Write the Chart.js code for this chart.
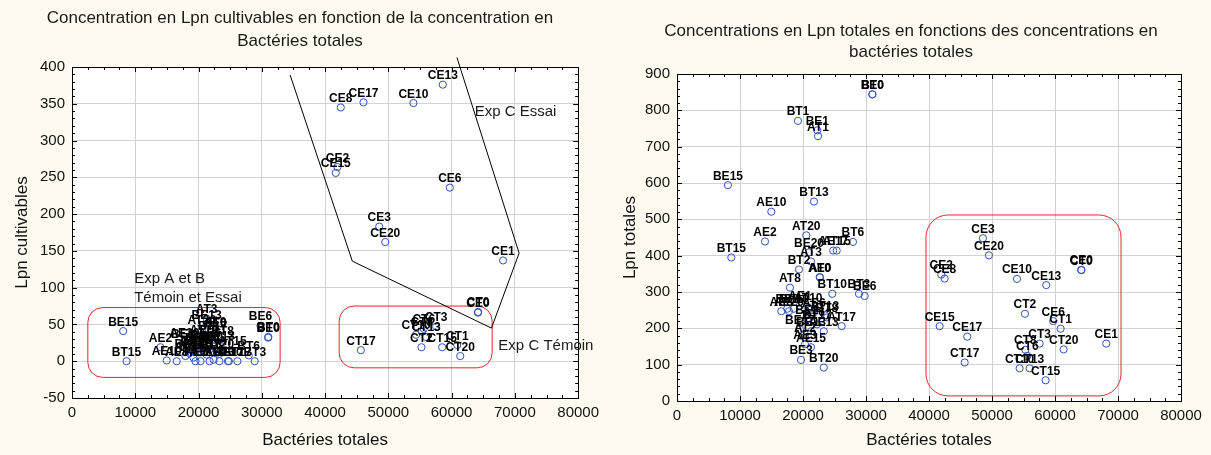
<!DOCTYPE html>
<html><head><meta charset="utf-8">
<script src="https://cdn.jsdelivr.net/npm/chart.js@4.4.1/dist/chart.umd.min.js"></script>
<style>
html,body{margin:0;padding:0;background:#fffaf0;}
#wrap{position:relative;width:1211px;height:455px;overflow:hidden;background:#fffaf0;}
canvas{position:absolute;top:0;}
#c1{left:0;} #c2{left:605px;}
</style></head><body>
<div id="wrap"><canvas id="c1" width="605" height="455"></canvas><canvas id="c2" width="606" height="455"></canvas></div>
<script>
// ---- DATA ----
const sampleNames = [
 "AE0","AE1","AE2","AE3","AE6","AE8","AE10","AE13","AE15","AE17","AE20",
 "AT0","AT1","AT2","AT3","AT6","AT8","AT10","AT13","AT15","AT17","AT20",
 "BE0","BE1","BE2","BE3","BE6","BE8","BE10","BE13","BE15","BE17","BE20",
 "BT0","BT1","BT2","BT3","BT6","BT8","BT10","BT13","BT15","BT17","BT20",
 "CE0","CE1","CE2","CE3","CE6","CE8","CE10","CE13","CE15","CE17","CE20",
 "CT0","CT1","CT2","CT3","CT6","CT8","CT10","CT13","CT15","CT17","CT20"
];
const bacteriesTotales = [
 22650,19520,13970,20310,21740,16550,14970,23300,21270,24800,17770,
 22700,22380,20310,21270,21740,17930,20840,23490,25350,26140,20520,
 31000,22270,20630,19690,29790,17500,18570,21270,8090,19520,20950,
 31030,19200,19360,28880,27930,23800,24650,21740,8620,22220,23300,
 64160,68130,41950,48560,59720,42480,53960,58610,41690,46070,49510,
 64190,60890,55230,57560,55600,55300,54380,55970,58510,45660,61370
];
const lpnCultivables = [
 39,0,19,12,25,0,1,0,9,0,26,
 40,2,0,58,16,7,30,21,14,0,43,
 32,20,22,18,48,24,11,50,41,13,17,
 33,5,14,0,8,28,0,0,0,35,10,
 66,137,264,183,236,345,351,376,256,352,162,
 67,22,19,47,44,40,36,33,19,15,7
];
const lpnTotales = [
 341,263,439,156,244,247,521,192,148,414,247,
 340,729,175,384,219,312,257,236,414,206,456,
 844,745,225,113,289,254,254,192,594,197,409,
 844,771,362,295,438,230,295,549,395,211,92,
 361,158,348,448,220,337,336,319,206,177,401,
 360,199,240,158,124,141,90,90,57,106,142
];
const xTickValues = [0,10000,20000,30000,40000,50000,60000,70000,80000];
const yTicksCultivables = [-50,0,50,100,150,200,250,300,350,400];
const yTicksTotales = [0,100,200,300,400,500,600,700,800,900];

// group outlines (data coordinates)
const essaiOutlineX = [34480,44310,66300,70670,60840];
const essaiOutlineY = [389,136,45,147,413];
const leftBoxes = [{x:[2500,32900], y:[-22,73]}, {x:[42230,66410], y:[-9,75]}];
const rightBoxes = [{x:[39520,70480], y:[14,512]}];
const leftNotes = [
 {text:"Exp A et B", x:9830, y:107},
 {text:"Témoin et Essai", x:9830, y:80},
 {text:"Exp C Essai", x:63650, y:333},
 {text:"Exp C Témoin", x:67390, y:15}
];

// ---- RENDER ----
Chart.defaults.font.family = '"Liberation Sans", Arial, sans-serif';
Chart.defaults.color = '#111';

function roundRect(ctx, x, y, w, h, r){
  ctx.beginPath();
  ctx.moveTo(x+r,y); ctx.lineTo(x+w-r,y); ctx.arcTo(x+w,y,x+w,y+r,r);
  ctx.lineTo(x+w,y+h-r); ctx.arcTo(x+w,y+h,x+w-r,y+h,r);
  ctx.lineTo(x+r,y+h); ctx.arcTo(x,y+h,x,y+h-r,r);
  ctx.lineTo(x,y+r); ctx.arcTo(x,y,x+r,y,r); ctx.closePath();
}

const decoPlugin = {
  id:'deco',
  afterLayout(chart, args, opts){
    if (opts.titleShift){ chart.titleBlock.left += opts.titleShift; chart.titleBlock.right += opts.titleShift; }
  },
  beforeDraw(chart){
    const {ctx, chartArea:a} = chart;
    ctx.save(); ctx.fillStyle='#ffffff'; ctx.fillRect(a.left,a.top,a.right-a.left,a.bottom-a.top); ctx.restore();
  },
  afterDatasetsDraw(chart, args, opts){
    const {ctx, chartArea:a} = chart; const xs = chart.scales.x, ys = chart.scales.y;
    ctx.save();
    // frame
    ctx.strokeStyle='#000'; ctx.lineWidth=1;
    ctx.strokeRect(Math.round(a.left)+0.5, Math.round(a.top)+0.5, Math.round(a.right-a.left), Math.round(a.bottom-a.top));
    // tick marks on all four sides
    ctx.beginPath();
    for (let v = xs.min; v <= xs.max + 1e-6; v += opts.xMinor){
      const px = Math.round(xs.getPixelForValue(v))+0.5;
      const L = (Math.abs(v % opts.xMajor) < 1e-6) ? 5 : 3;
      ctx.moveTo(px, a.bottom); ctx.lineTo(px, a.bottom - L);
      ctx.moveTo(px, a.top); ctx.lineTo(px, a.top + L);
    }
    for (let v = ys.min; v <= ys.max + 1e-6; v += opts.yMinor){
      const py = Math.round(ys.getPixelForValue(v))+0.5;
      const L = (Math.abs((v - ys.min) % opts.yMajor) < 1e-6) ? 5 : 3;
      ctx.moveTo(a.left, py); ctx.lineTo(a.left + L, py);
      ctx.moveTo(a.right, py); ctx.lineTo(a.right - L, py);
    }
    ctx.stroke();
    // group outlines
    (opts.boxes||[]).forEach(b=>{
      const x1 = xs.getPixelForValue(b.x[0]), x2 = xs.getPixelForValue(b.x[1]);
      const y1 = ys.getPixelForValue(b.y[1]), y2 = ys.getPixelForValue(b.y[0]);
      ctx.strokeStyle='#e8262a'; ctx.lineWidth=1;
      roundRect(ctx, x1, y1, x2-x1, y2-y1, opts.boxRadius||15); ctx.stroke();
    });
    if (opts.outline){
      ctx.strokeStyle='#000'; ctx.lineWidth=1; ctx.beginPath();
      opts.outline.x.forEach((vx,i)=>{
        const px = xs.getPixelForValue(vx), py = ys.getPixelForValue(opts.outline.y[i]);
        if (i===0) ctx.moveTo(px,py); else ctx.lineTo(px,py);
      });
      ctx.stroke();
    }
    (opts.notes||[]).forEach(n=>{
      ctx.font='15px "Liberation Sans", Arial, sans-serif'; ctx.fillStyle='#1a1a1a';
      ctx.textAlign='left'; ctx.textBaseline='alphabetic';
      ctx.fillText(n.text, xs.getPixelForValue(n.x), ys.getPixelForValue(n.y));
    });
    // point labels
    ctx.font='bold 12px "Liberation Sans", Arial, sans-serif'; ctx.fillStyle='#000';
    ctx.textAlign='center'; ctx.textBaseline='alphabetic';
    chart.getDatasetMeta(0).data.forEach((pt,i)=>{ ctx.fillText(sampleNames[i], pt.x, pt.y - 5.5); });
    ctx.restore();
  }
};

function makeChart(id, cfg){
  const pts = bacteriesTotales.map((x,i)=>({x:x, y:cfg.values[i]}));
  return new Chart(document.getElementById(id), {
    type:'scatter',
    data:{ datasets:[{ data:pts, pointStyle:'circle', pointRadius:3.6, pointBorderWidth:1,
      borderColor:'#2f52b8', backgroundColor:'rgba(255,255,255,0)', pointHoverRadius:3.6 }]},
    plugins:[decoPlugin],
    options:{
      responsive:false, animation:false, events:[],
      layout:{ padding:{ left:cfg.padLeft, right:cfg.padRight, top:0, bottom:0 } },
      plugins:{
        legend:{display:false}, tooltip:{enabled:false},
        title:{ display:true, text:cfg.title, color:'#1a1a1a',
          font:{ size:17, weight:'normal', lineHeight:cfg.titleLH }, padding:cfg.titlePad },
        deco:{ xMinor:2500, xMajor:10000, yMinor:cfg.yMinor, yMajor:cfg.yMajor,
          boxes:cfg.boxes, outline:cfg.outline, notes:cfg.notes, boxRadius:cfg.boxRadius, titleShift:cfg.titleShift }
      },
      scales:{
        x:{ type:'linear', min:0, max:80000,
          afterBuildTicks:s=>{ s.ticks = xTickValues.map(v=>({value:v})); },
          afterFit:s=>{ s.height = cfg.xHeight; },
          ticks:{ callback:v=>String(v), font:{size:15}, color:'#111', padding:6, maxRotation:0, autoSkip:false },
          grid:{ color:'#d2d2d2', lineWidth:1, drawTicks:false },
          border:{ display:true, color:'#000', width:1 },
          title:{ display:true, text:'Bactéries totales', font:{size:17}, color:'#111', padding:{top:0,bottom:4} }
        },
        y:{ type:'linear', min:cfg.yTicks[0], max:cfg.yTicks[cfg.yTicks.length-1],
          afterBuildTicks:s=>{ s.ticks = cfg.yTicks.map(v=>({value:v})); },
          afterFit:s=>{ s.width = cfg.yWidth; },
          ticks:{ callback:v=>String(v), font:{size:15}, color:'#111', padding:7, autoSkip:false },
          grid:{ color:'#d2d2d2', lineWidth:1, drawTicks:false },
          border:{ display:true, color:'#000', width:1 },
          title:{ display:true, text:cfg.yTitle, font:{size:17}, color:'#111', padding:{top:3,bottom:0} }
        }
      }
    }
  });
}

makeChart('c1', {
  values: lpnCultivables, yTicks: yTicksCultivables, yMinor:10, yMajor:50,
  title:['Concentration en Lpn cultivables en fonction de la concentration en','Bactéries totales'],
  titleLH: 23/17, titlePad:{top:6.5,bottom:14.5}, titleShift:3,
  padLeft:9, padRight:20, yWidth:63, xHeight:57,
  yTitle:'Lpn cultivables', boxes:leftBoxes, boxRadius:15,
  outline:{x:essaiOutlineX, y:essaiOutlineY}, notes:leftNotes
});
makeChart('c2', {
  values: lpnTotales, yTicks: yTicksTotales, yMinor:20, yMajor:100,
  title:['Concentrations en Lpn totales en fonctions des concentrations en','bactéries totales'],
  titleLH: 21/17, titlePad:{top:20.5,bottom:11.5}, titleShift:12,
  padLeft:12, padRight:30, yWidth:60, xHeight:54,
  yTitle:'Lpn totales', boxes:rightBoxes, boxRadius:22,
  outline:null, notes:[]
});
</script>
</body></html>
